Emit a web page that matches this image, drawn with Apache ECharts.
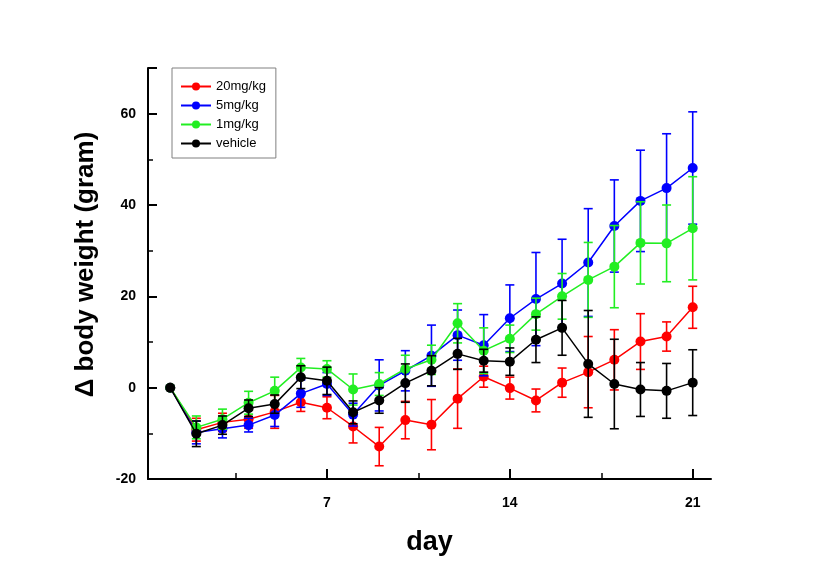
<!DOCTYPE html>
<html>
<head>
<meta charset="utf-8">
<script src="https://cdn.jsdelivr.net/npm/echarts@6/dist/echarts.min.js"></script>
<style>
html,body{margin:0;padding:0;background:#fff;}
#chart{width:827px;height:575px;}
</style>
</head>
<body>
<div id="chart"></div>
<script>
const days = [1,2,3,4,5,6,7,8,9,10,11,12,13,14,15,16,17,18,19,20,21];
const seriesNames = ['20mg/kg','5mg/kg','1mg/kg','vehicle'];
const colors = ['#ff0000','#0000ff','#22ee22','#000000'];

const red   = [0,-9.2,-7.6,-6.9,-5.3,-3.2,-4.4,-8.5,-12.9,-7.1,-8.1,-2.4,2.4,-0.1,-2.8,1.1,3.4,6.1,10.1,11.2,17.6];
const blue  = [0,-9.8,-9.0,-8.2,-6.0,-1.3,0.8,-5.9,0.5,3.7,7.0,11.5,9.3,15.2,19.4,22.8,27.4,35.4,40.9,43.7,48.1];
const green = [0,-8.7,-6.9,-3.3,-0.7,4.4,4.1,-0.4,0.8,4.1,6.1,14.1,8.1,10.7,16.1,20.0,23.6,26.5,31.7,31.6,34.9];
const black = [0,-10.1,-8.2,-4.5,-3.6,2.3,1.5,-5.4,-2.8,1.0,3.7,7.4,5.9,5.7,10.5,13.1,5.2,0.8,-0.4,-0.7,1.1];

const redErr   = [0,2.5,2.0,2.0,3.6,2.0,2.4,3.6,4.2,4.1,5.5,6.5,2.3,2.4,2.5,3.2,7.8,6.6,6.1,3.2,4.6];
const blueErr  = [0,2.5,2.0,1.5,2.5,3.0,2.5,2.5,5.6,4.4,6.7,5.5,6.7,7.3,10.2,9.7,11.8,10.1,11.1,11.9,12.3];
const greenErr = [0,2.5,2.2,2.5,3.0,2.0,1.8,3.4,2.5,3.0,3.2,4.3,5.0,3.0,3.5,5.0,8.2,9.0,9.0,8.4,11.3];
const blackErr = [0,2.8,2.0,1.8,2.0,2.5,3.0,2.5,2.8,4.2,3.3,3.4,2.5,3.0,5.0,6.0,11.7,9.8,5.9,6.0,7.2];

const yLabelTicks = [-20,0,20,40,60];
const yMajorTicks = [-20,0,20,40,60,70];
const yMinorTicks = [-10,10,30,50];
const xLabelTicks = [7,14,21];
const xMinorTicks = [3.5,10.5,17.5];

const values = [red, blue, green, black];
const errs = [redErr, blueErr, greenErr, blackErr];

const chart = echarts.init(document.getElementById('chart'));
const FONT = 'Liberation Sans, Arial, sans-serif';

const series = [];
values.forEach((vals, i) => {
  const errData = days.map((d, k) => [d, vals[k] - errs[i][k], vals[k] + errs[i][k]]).filter((e, k) => errs[i][k] > 0);
  series.push({
    type: 'custom',
    name: seriesNames[i] + ' err',
    xAxisIndex: 0, yAxisIndex: 0,
    z: 2 + i * 2,
    silent: true,
    data: errData,
    encode: { x: 0, y: [1, 2] },
    renderItem: function (params, api) {
      const x = api.value(0);
      const lo = api.coord([x, api.value(1)]);
      const hi = api.coord([x, api.value(2)]);
      const hw = 4.5;
      const style = { stroke: colors[i], lineWidth: 1.6 };
      return {
        type: 'group',
        children: [
          { type: 'line', shape: { x1: lo[0], y1: lo[1], x2: hi[0], y2: hi[1] }, style: style },
          { type: 'line', shape: { x1: lo[0] - hw, y1: lo[1], x2: lo[0] + hw, y2: lo[1] }, style: style },
          { type: 'line', shape: { x1: hi[0] - hw, y1: hi[1], x2: hi[0] + hw, y2: hi[1] }, style: style }
        ]
      };
    }
  });
  series.push({
    type: 'line',
    name: seriesNames[i],
    xAxisIndex: 0, yAxisIndex: 0,
    z: 3 + i * 2,
    data: days.map((d, k) => [d, vals[k]]),
    symbol: 'circle',
    symbolSize: 10,
    showSymbol: true,
    lineStyle: { color: colors[i], width: 1.5 },
    itemStyle: { color: colors[i] },
    animation: false
  });
});

const gridPos = { left: 148, right: 116, top: 68, bottom: 96 };

chart.setOption({
  animation: false,
  backgroundColor: '#ffffff',
  grid: gridPos,
  legend: {
    data: seriesNames,
    orient: 'vertical',
    left: 172, top: 68,
    itemWidth: 30, itemHeight: 10, itemGap: 6,
    padding: [12, 10, 8, 8],
    borderColor: '#808080', borderWidth: 1,
    textStyle: { fontFamily: FONT, fontSize: 13, color: '#000' },
    selectedMode: false
  },
  xAxis: [{
    type: 'value', min: 0.15, max: 21.7, position: 'bottom',
    name: 'day', nameLocation: 'middle', nameGap: 50,
    nameTextStyle: { fontFamily: FONT, fontSize: 27, fontWeight: 'bold', color: '#000' },
    axisLine: { show: true, onZero: false, lineStyle: { color: '#000', width: 2 } },
    axisTick: { show: true, inside: true, length: 10, customValues: xLabelTicks, lineStyle: { color: '#000', width: 2 } },
    axisLabel: { customValues: xLabelTicks, margin: 17, fontFamily: FONT, fontSize: 14, fontWeight: 'bold', color: '#000' },
    splitLine: { show: false }
  }, {
    type: 'value', min: 0.15, max: 21.7, gridIndex: 0, position: 'bottom', offset: 0,
    axisLine: { show: false, onZero: false },
    axisTick: { show: true, inside: true, length: 6, customValues: xMinorTicks, lineStyle: { color: '#000', width: 1.5 } },
    axisLabel: { show: false },
    splitLine: { show: false }
  }],
  yAxis: [{
    type: 'value', min: -20, max: 70, position: 'left',
    name: '\u0394 body weight (gram)', nameLocation: 'middle', nameGap: 62, nameRotate: 90,
    nameMoveOverlap: false,
    nameTextStyle: { fontFamily: FONT, fontSize: 26, fontWeight: 'bold', color: '#000', verticalAlign: 'middle', padding: [0, 0, 0, 18] },
    axisLine: { show: true, onZero: false, lineStyle: { color: '#000', width: 2 } },
    axisTick: { show: true, inside: true, length: 9, customValues: yMajorTicks, lineStyle: { color: '#000', width: 2 } },
    axisLabel: { customValues: yLabelTicks, margin: 12, fontFamily: FONT, fontSize: 14, fontWeight: 'bold', color: '#000' },
    splitLine: { show: false }
  }, {
    type: 'value', min: -20, max: 70, gridIndex: 0, position: 'left', offset: 0,
    axisLine: { show: false, onZero: false },
    axisTick: { show: true, inside: true, length: 5, customValues: yMinorTicks, lineStyle: { color: '#000', width: 1.5 } },
    axisLabel: { show: false },
    splitLine: { show: false }
  }],
  series: series
});
</script>
</body>
</html>
